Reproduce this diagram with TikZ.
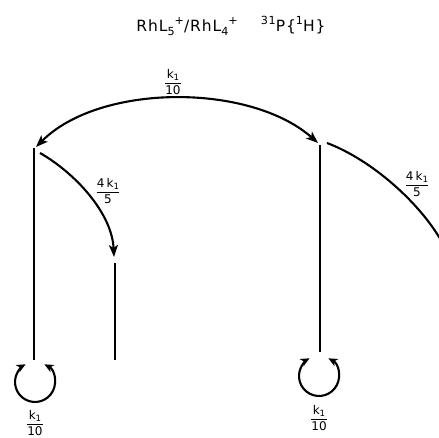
\documentclass[tikz,border=0pt]{standalone}
\usepackage{fontspec}
\usepackage{graphicx}
\setmainfont{DejaVu Sans}
\newfontfamily\ttl[LetterSpace=6]{DejaVu Sans}
\usetikzlibrary{arrows.meta}
\newcommand{\mysub}[1]{\raisebox{-0.4ex}{\scalebox{0.72}{#1}}}
\newcommand{\mysup}[1]{\raisebox{0.8ex}{\scalebox{0.72}{#1}}}
\newcommand{\myfrac}[2]{$\displaystyle\frac{\hbox{#1}}{\hbox{#2}}$}
\tikzset{
  ln/.style={line width=2.4pt},
  cv/.style={line width=2.1pt},
  tip/.style={-{Stealth[length=12pt,width=9pt,inset=3pt]}},
  dtip/.style={{Stealth[length=12pt,width=9pt,inset=3pt]}-{Stealth[length=12pt,width=9pt,inset=3pt]}},
  ltip/.style={{Stealth[length=9pt,width=8pt,inset=2.5pt]}-{Stealth[length=9pt,width=8pt,inset=2.5pt]}},
  lbl/.style={font=\fontsize{12}{13}\selectfont, inner sep=0pt},
}
\begin{document}
\begin{tikzpicture}[x=1pt,y=1pt]
\useasboundingbox (0,0) rectangle (439,438);
\node[font=\ttl\fontsize{15.5}{17}\selectfont] (title) at (231,412)
  {RhL\mysub{5}\mysup{+}/RhL\mysub{4}\mysup{+}\hspace{1.5em}\mysup{31}P\{\mysup{1}H\}};
% line ends
\coordinate (Lt) at (34,290);
\coordinate (Lb) at (34,78);
\coordinate (Mt) at (115,175);
\coordinate (Mb) at (115,78);
\coordinate (Rt) at (320,293);
\coordinate (Rb) at (320,86);
\coordinate (Ltip) at (36,291);
\coordinate (Rtip) at (318,295);
\coordinate (Lst) at (40,285);
\coordinate (Mtip) at (114,181);
\coordinate (Rst) at (327,295);
\coordinate (Rend) at (442,196);
\draw[ln] (Lt) -- (Lb);
\draw[ln] (Mt) -- (Mb);
\draw[ln] (Rt) -- (Rb);
% top double arc
\draw[cv,dtip] (Ltip) .. controls (100,355) and (250,355) .. (Rtip);
\node[lbl] (ftop) at (173,356) {\myfrac{k\mysub{1}}{10}};
% left curved arrow
\draw[cv,tip] (Lst) .. controls (75,265) and (112,225) .. (Mtip);
\node[lbl] (fleft) at (108,247) {\myfrac{4\,k\mysub{1}}{5}};
% right curve
\draw[cv] (Rst) .. controls (372,278) and (420,235) .. (Rend);
\node[lbl] (fright) at (417,254) {\myfrac{4\,k\mysub{1}}{5}};
% loops
\coordinate (Lc) at (35,56);
\coordinate (Rc) at (319,62);
\draw[cv,ltip] ([shift={(62:20)}]Lc) arc[start angle=62,end angle=-242,radius=20];
\draw[cv,ltip] ([shift={(62:20)}]Rc) arc[start angle=62,end angle=-242,radius=20];
\node[lbl] (fll) at (35,15) {\myfrac{k\mysub{1}}{10}};
\node[lbl] (frl) at (319,20) {\myfrac{k\mysub{1}}{10}};
\end{tikzpicture}
\end{document}
